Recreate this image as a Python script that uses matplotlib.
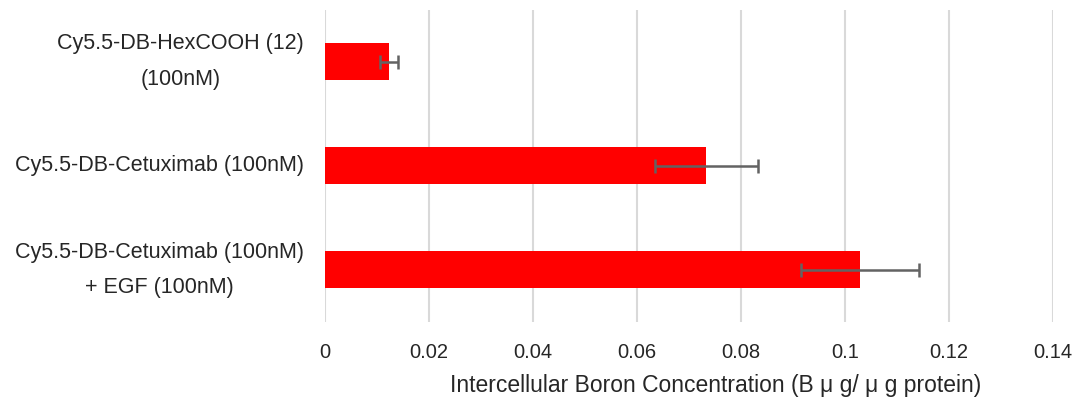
import matplotlib.pyplot as plt
import numpy

plt.rcParams['font.family'] = ['Liberation Sans', 'DejaVu Sans']

# data
categories = ['Cy5.5-DB-HexCOOH (12)\n(100nM)',
              'Cy5.5-DB-Cetuximab (100nM)',
              'Cy5.5-DB-Cetuximab (100nM)\n+ EGF (100nM)']
boron = [0.0123, 0.0733, 0.1029]
boron_err = [0.0018, 0.0099, 0.0113]
x_ticks = [0, 0.02, 0.04, 0.06, 0.08, 0.1, 0.12, 0.14]
x_tick_labels = ['0', '0.02', '0.04', '0.06', '0.08', '0.1', '0.12', '0.14']


def plot_boron():
    fig = plt.figure(figsize=(10.75, 4.01), dpi=100)
    axes = fig.add_axes([0.3023, 0.197, 0.6772, 0.779])

    positions = numpy.arange(len(categories))
    axes.barh(positions, boron, height=0.355, color='#ff0000', zorder=2)
    axes.errorbar(boron, positions, xerr=boron_err, fmt='none',
                  ecolor='#636363', elinewidth=1.8, capsize=5, capthick=1.8, zorder=3)

    axes.set_xlim(0, 0.14)
    axes.set_ylim(-0.5, len(categories) - 0.5)
    axes.invert_yaxis()
    axes.set_xticks(x_ticks)
    axes.set_xticklabels(x_tick_labels)
    axes.set_yticks(positions)
    axes.set_yticklabels(categories, ha='right', va='center',
                         multialignment='center', linespacing=1.9)
    axes.tick_params(axis='y', pad=15, length=0, labelsize=15.5, labelcolor='#262626')
    axes.tick_params(axis='x', pad=15, length=0, labelsize=14.5, labelcolor='#262626')

    axes.grid(axis='x', color='#d9d9d9', linewidth=1.5, zorder=0)
    for spine in axes.spines.values():
        spine.set_visible(False)

    label = axes.set_xlabel('Intercellular Boron Concentration (B μ g/ μ g protein)',
                            fontsize=16.5, color='#262626')
    axes.xaxis.set_label_coords(0.536, -0.202)
    label.set_va('center')
    fig.savefig('out.png', dpi=100)


plot_boron()
